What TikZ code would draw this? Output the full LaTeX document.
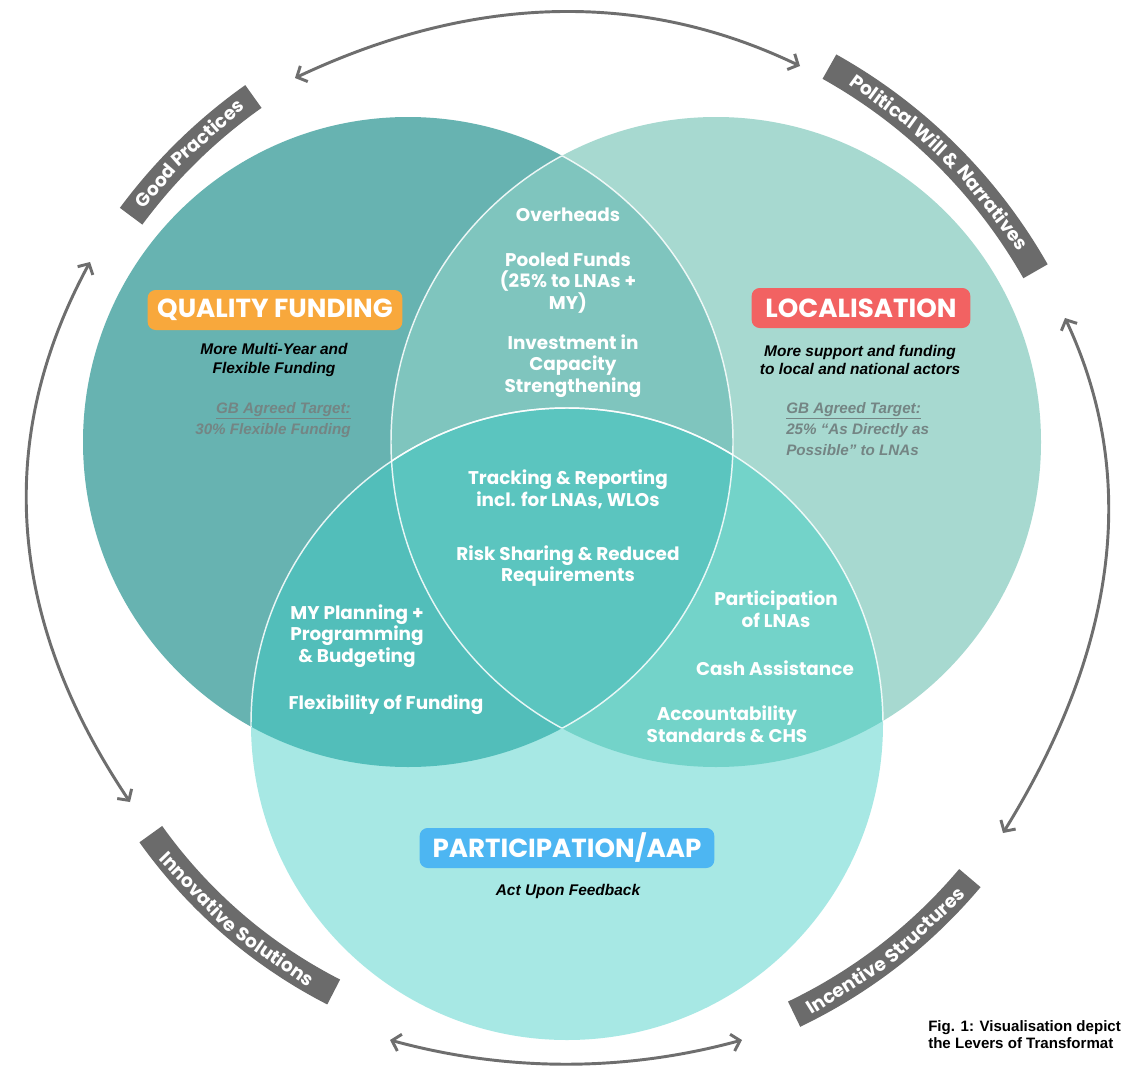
\documentclass[tikz,border=0pt]{standalone}
\usepackage{fontspec}
\setmainfont{Liberation Sans}
\newfontfamily\pop{Poppins}
\usetikzlibrary{arrows.meta}
\definecolor{colL}{HTML}{67B3B1}
\definecolor{colR}{HTML}{A7D9D0}
\definecolor{colB}{HTML}{A7E8E4}
\definecolor{colLR}{HTML}{7FC5BE}
\definecolor{colLB}{HTML}{52BEBA}
\definecolor{colRB}{HTML}{73D3C9}
\definecolor{colLRB}{HTML}{5BC5BF}
\definecolor{bandgrey}{HTML}{6B6B6B}
\definecolor{arrgrey}{HTML}{6E6E6E}
\definecolor{qfcol}{HTML}{F8A83C}
\definecolor{loccol}{HTML}{F26262}
\definecolor{parcol}{HTML}{4DB6F2}
\definecolor{targetgrey}{HTML}{748584}
\def\bandfont{\pop\bfseries\fontsize{14}{14}\selectfont}
\newbox\blbox
\makeatletter
\newcommand\measureword[2]{%
  \setbox\blbox=\hbox{\bandfont #2}%
  \expandafter\xdef\csname bw@#1\endcsname{\the\wd\blbox}}
% #1 centre angle (visual, deg), #2 radius (px), #3 reading direction (+1 ccw, -1 cw),
% #4 rotation offset, #5 name prefix, #6 key/word list
\newcommand\bandlabel[6]{%
  \xdef\bl@sp{\csname bw@sp\endcsname}%
  \gdef\bl@tot{0pt}%
  \foreach \k/\w in {#6}{%
    \xdef\bl@w{\csname bw@\k\endcsname}%
    \pgfmathsetmacro\bl@tmp{\bl@tot+\bl@w+\bl@sp}%
    \xdef\bl@tot{\bl@tmp pt}}%
  \pgfmathsetmacro\bl@total{\bl@tot-\bl@sp}%
  \pgfmathsetmacro\bl@dpp{180/(0.75*#2*pi)}%
  \pgfmathsetmacro\bl@start{#1-#3*\bl@total*\bl@dpp/2}%
  \xdef\bl@start{\bl@start}%
  \xdef\bl@pos{0}%
  \foreach \k/\w [count=\i] in {#6}{%
    \xdef\bl@w{\csname bw@\k\endcsname}%
    \pgfmathsetmacro\bl@c{\bl@start+#3*(\bl@pos+\bl@w/2)*\bl@dpp}%
    \pgfmathsetmacro\bl@nc{-\bl@c}%
    \pgfmathsetmacro\bl@rot{\bl@c+#4}%
    \pgfmathsetmacro\bl@tmp{\bl@pos+\bl@w+\bl@sp}%
    \xdef\bl@pos{\bl@tmp}%
    \node[bandword, rotate=\bl@rot] (#5-\i) at ([shift={(\bl@nc:#2)}]cc) {\w};
  }%
}
\makeatother
\begin{document}
\measureword{sp}{\ }%
\foreach \k/\w in {gp1/Good,gp2/Practices,pw1/Political,pw2/Will,pw3/\&,pw4/Narratives,is1/Innovative,is2/Solutions,ins1/Incentive,ins2/Structures}{\measureword{\k}{\w}}%
\begin{tikzpicture}[x=0.75pt,y=-0.75pt,
  headbox/.style={rounded corners=6pt, text=white, inner sep=0pt, minimum height=30pt,
    font=\pop\bfseries\fontsize{19.6}{19.6}\selectfont},
  inner/.style={align=center, text=white, inner sep=0pt,
    font=\pop\bfseries\fontsize{13.8}{16.3}\selectfont},
  subt/.style={align=center, text=black, inner sep=0pt,
    font=\bfseries\itshape\fontsize{11.6}{13.6}\selectfont},
  target/.style={text=targetgrey, inner sep=0pt,
    font=\bfseries\itshape\fontsize{11.4}{15.75}\selectfont},
  band/.style={draw=bandgrey, line width=21pt, line cap=butt},
  bandword/.style={text=white, inner sep=0pt, text height=10.5pt, text depth=0.5pt, font=\bandfont},
  ringarrow/.style={draw=arrgrey, line width=2.2pt,
    {Straight Barb[length=6pt,width=13pt]}-{Straight Barb[length=6pt,width=13pt]}}
]
\useasboundingbox (0,0) rectangle (1125,1067);
\fill[white] (0,0) rectangle (1125,1067);

% centres
\coordinate (cl) at (408,442);
\coordinate (cr) at (716,442);
\coordinate (cb) at (567,724);
\coordinate (cc) at (566,538);

% circles
\fill[colL] (cl) circle[radius=325];
\fill[colR] (cr) circle[radius=325];
\fill[colB] (cb) circle[radius=316];
\begin{scope}\clip (cl) circle[radius=325]; \fill[colLR] (cr) circle[radius=325];\end{scope}
\begin{scope}\clip (cl) circle[radius=325]; \fill[colLB] (cb) circle[radius=316];\end{scope}
\begin{scope}\clip (cr) circle[radius=325]; \fill[colRB] (cb) circle[radius=316];\end{scope}
\begin{scope}\clip (cl) circle[radius=325]; \clip (cr) circle[radius=325]; \fill[colLRB] (cb) circle[radius=316];\end{scope}
% white boundary lines
\begin{scope}\clip (cr) circle[radius=325]; \draw[white, line width=1.1pt, opacity=0.85] (cl) circle[radius=325];\end{scope}
\begin{scope}\clip (cl) circle[radius=325]; \draw[white, line width=1.1pt, opacity=0.85] (cr) circle[radius=325];\end{scope}
\begin{scope}\clip (cl) circle[radius=325]; \draw[white, line width=1.1pt, opacity=0.85] (cb) circle[radius=316];\end{scope}
\begin{scope}\clip (cr) circle[radius=325]; \draw[white, line width=1.1pt, opacity=0.85] (cb) circle[radius=316];\end{scope}

% heading boxes
\node[headbox, fill=qfcol, minimum width=191pt] (qf) at (275,310) {QUALITY FUNDING};
\node[headbox, fill=loccol, minimum width=164pt] (loc) at (861,308) {LOCALISATION};
\node[headbox, fill=parcol, minimum width=221pt] (par) at (567,848) {PARTICIPATION/AAP};

% subtitles
\node[subt] (qfsub) at (274,360) {More Multi-Year and\\Flexible Funding};
\node[subt] (locsub) at (860,360) {More support and funding\\to local and national actors};
\node[subt] (parsub) at (568,891) {Act Upon Feedback};

% targets
\node[target, align=right, anchor=north east] (qftgt) at (351,402) {\underline{GB Agreed Target:}\\30\% Flexible Funding};
\node[target, align=left, anchor=north west] (loctgt) at (786,402) {\underline{GB Agreed Target:}\\25\% ``As Directly as\\Possible'' to LNAs};

% overlap texts
\node[inner] (ovh) at (568,215) {Overheads};
\node[inner] (pool) at (568,283) {Pooled Funds\\(25\% to LNAs +\\MY)};
\node[inner] (inv) at (573,366) {Investment in\\Capacity\\Strengthening};
\node[inner] (trk) at (568,489) {Tracking \& Reporting\\incl. for LNAs, WLOs};
\node[inner] (risk) at (568,566) {Risk Sharing \& Reduced\\Requirements};
\node[inner] (myp) at (357,636) {MY Planning +\\Programming\\\& Budgeting};
\node[inner] (flex) at (386,705) {Flexibility of Funding};
\node[inner] (partl) at (776,609) {Participation\\of LNAs};
\node[inner] (cash) at (775,668) {Cash Assistance};
\node[inner] (acc) at (727,724) {Accountability\\Standards \& CHS};

% ring arrows
\coordinate (ta) at (295,78);  \coordinate (tb) at (473,-6);   \coordinate (tc) at (642,-10);  \coordinate (td) at (800,66);
\coordinate (ba) at (390,1040);\coordinate (bb) at (507,1072); \coordinate (bc) at (625,1072); \coordinate (bd) at (742,1040);
\coordinate (la) at (90,262);  \coordinate (lb) at (-6,439);   \coordinate (lc) at (7,619);    \coordinate (ld) at (130,802);
\coordinate (ra) at (1065,318);\coordinate (rb) at (1139,476); \coordinate (rc) at (1118,647); \coordinate (rd) at (1003,833);
\draw[ringarrow] (ta) .. controls (tb) and (tc) .. (td);
\draw[ringarrow] (ba) .. controls (bb) and (bc) .. (bd);
\draw[ringarrow] (la) .. controls (lb) and (lc) .. (ld);
\draw[ringarrow] (ra) .. controls (rb) and (rc) .. (rd);

% curved label bands
\draw[band] ([shift={(-143.5:541)}]cc) arc[start angle=-143.5, end angle=-125.3, radius=541];
\draw[band] ([shift={(-60.8:540)}]cc) arc[start angle=-60.8, end angle=-29.6, radius=540];
\draw[band] ([shift={(144.5:510)}]cc) arc[start angle=144.5, end angle=117.1, radius=510];
\draw[band] ([shift={(64.4:528)}]cc) arc[start angle=64.4, end angle=40.1, radius=528];

% words along the bands
\bandlabel{134.4}{541}{-1}{-90}{gp}{gp1/Good,gp2/Practices}
\bandlabel{45.2}{540}{-1}{-90}{pw}{pw1/Political,pw2/Will,pw3/\&,pw4/Narratives}
\bandlabel{229.2}{510}{1}{90}{is}{is1/Innovative,is2/Solutions}
\bandlabel{-52.25}{528}{1}{90}{ins}{ins1/Incentive,ins2/Structures}

% caption
\node[anchor=north west, align=left, inner sep=0pt, font=\bfseries\fontsize{11.3}{12.8}\selectfont] (cap) at (928,1020)
  {Fig. 1: Visualisation depict\\the Levers of Transformat};
\end{tikzpicture}
\end{document}
